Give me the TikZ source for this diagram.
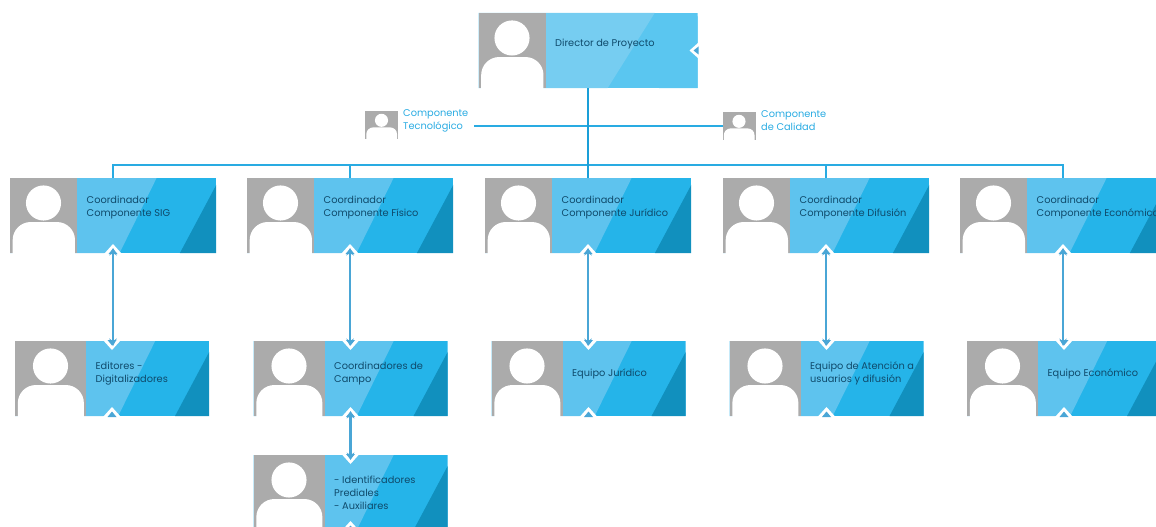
\documentclass[tikz,border=0pt]{standalone}
\usepackage{fontspec}
\setmainfont{Poppins}
\usetikzlibrary{positioning}
\definecolor{cardgray}{HTML}{ABABAB}
\definecolor{bandlight}{HTML}{5EC3EE}
\definecolor{bandmid}{HTML}{25B4E9}
\definecolor{banddark}{HTML}{1190BE}
\definecolor{linkblue}{HTML}{29ABE2}
\definecolor{trunkblue}{HTML}{1A9FD8}
\definecolor{drop}{HTML}{4AA6D6}
\definecolor{cardtext}{HTML}{0F4A6B}
\tikzset{
  card/.style={minimum height=75pt,inner sep=0pt,outer sep=0pt},
  smallcard/.style={fill=cardgray,minimum width=33pt,minimum height=28pt,inner sep=0pt,outer sep=0pt},
  cardlabel/.style={anchor=west,align=left,text=cardtext,inner sep=0pt,font=\fontsize{9.8}{13}\selectfont},
  sidelabel/.style={anchor=west,align=left,text=linkblue,inner sep=0pt,font=\fontsize{9.8}{13}\selectfont},
  link/.style={draw=linkblue,line width=1.7pt},
  trunk/.style={draw=trunkblue,line width=2.6pt},
  droplink/.style={draw=drop,line width=2.2pt,<->,>=stealth,shorten <=-5pt,shorten >=-5pt}
}
\newcommand{\midfrac}{0.468}
\newcommand{\midrun}{37}
% grey square with the white head and shoulders
\newcommand{\avatar}[3]{
  \fill[white] (#1.north west) ++(0.5*#2,0.333*#3) circle (0.234*#3);
  \fill[white,rounded corners=0.24*#3] (#1.north west) ++(0.04*#2,#3+20) -- ++(0,-0.413*#3-20) -- ++(0.93*#2,0) -- ++(0,0.413*#3+20) -- cycle;
}
% name, centre x, top y, width, photo width, label y, label
\newcommand{\personcard}[7]{
  \node[card,minimum width=#4pt,anchor=north] (#1) at (#2,#3) {};
  \begin{scope}
    \clip (#1.south west) rectangle (#1.north east);
    \fill[bandmid] (#1.south west) rectangle (#1.north east);
    \fill[bandlight] (#1.south west) -- ++(#4-\midfrac*#4,0) -- ++(\midrun,-75) -- (#1.north west) -- cycle;
    \fill[banddark] (#1.south west) ++(0.825*#4,0) -- ++(40,-75) -- ++(60,0) -- ++(0,75) -- cycle;
    \fill[cardgray] (#1.north west) rectangle ++(#5,75);
    \avatar{#1}{#5}{75}
  \end{scope}
  \node[cardlabel] (#1label) at ([shift={(#5+9.5,#6+1.5)}]#1.north west) {#7};
}
% white chevrons on the card edge, a small blue tip inside
\newcommand{\notchbelow}[1]{
  \fill[white] (#1.south) ++(-9,1) -- ++(9,-10) -- ++(9,10) -- cycle;
  \fill[drop] (#1.south) ++(-4.5,1) -- ++(4.5,-5.5) -- ++(4.5,5.5) -- cycle;
}
\newcommand{\notchabove}[1]{
  \fill[white] (#1.north) ++(-9,-1) -- ++(9,10) -- ++(9,-10) -- cycle;
  \fill[drop] (#1.north) ++(-4.5,-1) -- ++(4.5,5.5) -- ++(4.5,-5.5) -- cycle;
}
\begin{document}
\begin{tikzpicture}[x=1pt,y=-1pt]
  \useasboundingbox (0,0) rectangle (1156,527);
  \clip (0,0) rectangle (1156,527);

  \coordinate (bus) at (588,165);

  % Top card, paler and with no dark corner
  \begin{scope}
    \definecolor{bandlight}{HTML}{76CDF1}
    \definecolor{bandmid}{HTML}{5AC6F0}
    \definecolor{banddark}{HTML}{5AC6F0}
    \renewcommand{\midfrac}{0.41}
    \renewcommand{\midrun}{47}
    \personcard{dir}{588}{13}{219}{67}{30}{Director de Proyecto}
  \end{scope}
  \fill[white] (dir.east) ++(1,-8) -- ++(-9,8) -- ++(9,8) -- cycle;
  \fill[drop] (dir.east) ++(1,-4) -- ++(-5,4) -- ++(5,4) -- cycle;

  % Coordinators
  \personcard{csig}{113}{178}{206}{67}{28}{Coordinador\\Componente SIG}
  \personcard{cfis}{350}{178}{206}{67}{28}{Coordinador\\Componente Físico}
  \personcard{cjur}{588}{178}{206}{67}{28}{Coordinador\\Componente Jurídico}
  \personcard{cdif}{826}{178}{206}{67}{28}{Coordinador\\Componente Difusión}
  \personcard{ceco}{1063}{178}{206}{67}{28}{Coordinador\\Componente Económico}

  % Teams
  \personcard{edit}{112}{341}{194}{71}{31}{Editores -\\Digitalizadores}
  \personcard{camp}{350.5}{341}{194}{71}{31}{Coordinadores de\\Campo}
  \personcard{ejur}{588.5}{341}{194}{71}{31}{Equipo Jurídico}
  \personcard{edif}{826.5}{341}{194}{71}{31}{Equipo de Atención a\\usuarios y difusión}
  \personcard{eeco}{1064}{341}{194}{71}{31}{Equipo Económico}
  \personcard{iden}{350.5}{455}{194}{71}{36}{- Identificadores\\Prediales\\- Auxiliares}

  \foreach \n in {csig,cfis,cjur,cdif,ceco,edit,camp,ejur,edif,eeco,iden} {\notchbelow{\n}}
  \foreach \n in {edit,camp,ejur,edif,eeco,iden} {\notchabove{\n}}

  % Side roles
  \node[smallcard] (ctec) at (381.5,125) {};
  \avatar{ctec}{33}{28}
  \node[sidelabel] (ltec) at (403,120.5) {Componente\\Tecnológico};
  \node[smallcard] (ccal) at (739,126) {};
  \avatar{ccal}{33}{28}
  \node[sidelabel] (lcal) at (761,120.5) {Componente\\de Calidad};

  \draw[link] ([xshift=6pt]ltec.east |- ccal.west) -- (ccal.west);
  \draw[link] (csig.north) |- (bus) -| (ceco.north);
  \draw[link] (cfis.north) -- (cfis.north |- bus);
  \draw[link] (cdif.north) -- (cdif.north |- bus);
  \draw[trunk] (dir.south) -- (cjur.north);

  \draw[droplink] (csig.south) -- (csig.south |- edit.north);
  \draw[droplink] (cfis.south) -- (cfis.south |- camp.north);
  \draw[droplink] (cjur.south) -- (cjur.south |- ejur.north);
  \draw[droplink] (cdif.south) -- (cdif.south |- edif.north);
  \draw[droplink] (ceco.south) -- (ceco.south |- eeco.north);
  \draw[droplink] (camp.south) -- (camp.south |- iden.north);
\end{tikzpicture}
\end{document}
